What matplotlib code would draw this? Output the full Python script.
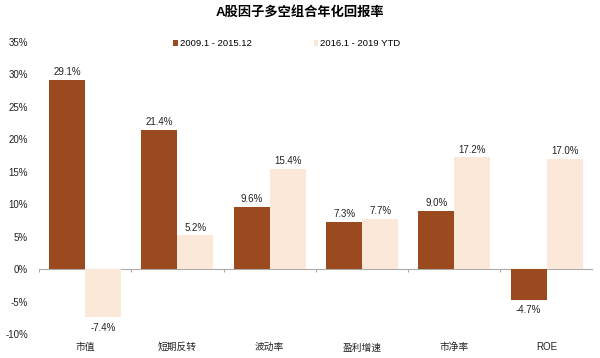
import matplotlib.pyplot as plt
import numpy as np

plt.rcParams['font.family'] = ['Liberation Sans', 'Noto Sans CJK SC', 'DejaVu Sans']

categories = ["市值", "短期反转", "波动率", "盈利增速", "市净率", "ROE"]
period1 = [29.1, 21.4, 9.6, 7.3, 9.0, -4.7]
period2 = [-7.4, 5.2, 15.4, 7.7, 17.2, 17.0]
labels = ["2009.1 - 2015.12", "2016.1 - 2019 YTD"]
yticks = [35, 30, 25, 20, 15, 10, 5, 0, -5, -10]

dark = "#9B4A20"
light = "#FCE8D9"

fig = plt.figure(figsize=(6, 3.58), dpi=100)
ax = fig.add_axes([0.065, 0.067, 0.923, 0.816])

x = np.arange(len(categories))
w = 0.39
b1 = ax.bar(x - w / 2, period1, w, color=dark, label=labels[0])
b2 = ax.bar(x + w / 2, period2, w, color=light, label=labels[1])

for bars, vals in [(b1, period1), (b2, period2)]:
    for rect, v in zip(bars, vals):
        cx = rect.get_x() + rect.get_width() / 2
        if v >= 0:
            ax.annotate(f"{v:.1f}%", (cx, v), xytext=(0, 2), textcoords="offset points",
                        ha="center", va="bottom", fontsize=7, color="#222222")
        else:
            ax.annotate(f"{v:.1f}%", (cx, v), xytext=(0, -4), textcoords="offset points",
                        ha="center", va="top", fontsize=7, color="#222222")

ax.set_xlim(-0.5, len(categories) - 0.5)
ax.set_ylim(-10, 35)
ax.set_yticks(yticks)
ax.set_yticklabels([f"{t}%" for t in yticks], fontsize=7, color="#222222")
ax.set_xticks(x)
ax.set_xticklabels(categories, fontsize=7, color="#222222")
ax.tick_params(axis="both", length=0)
ax.tick_params(axis="x", pad=6)
ax.tick_params(axis="y", pad=8)
for s in ax.spines.values():
    s.set_visible(False)

# zero line with small boundary ticks
ax.axhline(0, color="#AAAAAA", lw=0.8, zorder=0)
ax.vlines(np.arange(len(categories) + 1) - 0.5, -0.5, 0, color="#AAAAAA", lw=0.8)

ax.legend(loc="upper left", bbox_to_anchor=(0.235, 1.022), ncol=2, frameon=False,
          fontsize=6.8, handlelength=0.5, handleheight=0.5, handletextpad=0.2,
          columnspacing=6.6, borderaxespad=0)

fig.suptitle("A股因子多空组合年化回报率", x=0.5, y=0.985, fontsize=9.5, fontweight="bold")

fig.savefig("out.png", dpi=100)
